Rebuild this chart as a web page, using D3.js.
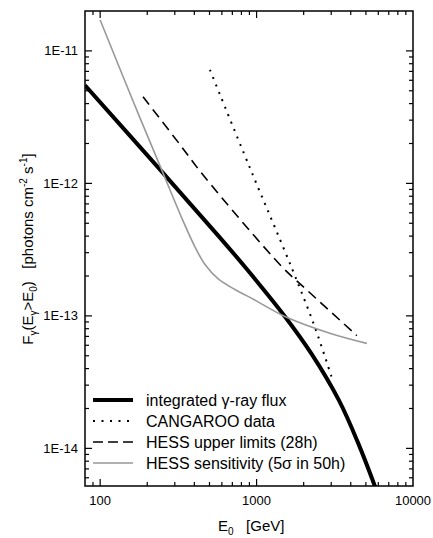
<!DOCTYPE html>
<html>
<head>
<meta charset="utf-8">
<script src="https://cdn.jsdelivr.net/npm/d3@7"></script>
<style>
  body { margin: 0; background: #fff; }
  svg { display: block; font-family: "Liberation Sans", Arial, Helvetica, sans-serif; }
</style>
</head>
<body>
<svg width="433" height="538"></svg>
<script>
// energies in GeV, fluxes in photons cm^-2 s^-1
var fluxE = [80, 252, 583, 881, 1517, 2257, 3357, 4441, 5700, 6140];
var fluxF = [5.5e-12, 1.2e-12, 3.9e-13, 2.2e-13, 9.9e-14, 5.12e-14, 2.31e-14, 1.11e-14, 5.2e-15, 4.06e-15];

var cangE = [503, 906, 1683, 2360, 3030];
var cangF = [7.2e-12, 1.31e-12, 2.28e-13, 8.2e-14, 3.4e-14];

var ulE = [188, 324, 454, 1452, 1977, 4375];
var ulF = [4.5e-12, 1.96e-12, 1.16e-12, 2.35e-13, 1.67e-13, 7.1e-14];

var sensE = [100, 162, 252, 338, 403, 468, 566, 727, 906, 1517, 2940, 5070];
var sensF = [1.71e-11, 4.2e-12, 1.2e-12, 5.24e-13, 3.33e-13, 2.44e-13, 1.91e-13, 1.58e-13, 1.38e-13, 9.9e-14, 7.4e-14, 6.2e-14];

var xTicks = [100, 1000, 10000];
var xTickLabels = ["100", "1000", "10000"];
var yTicks = [1e-14, 1e-13, 1e-12, 1e-11];
var yTickLabels = ["1E-14", "1E-13", "1E-12", "1E-11"];

var legendLabels = ["integrated \u03b3-ray flux", "CANGAROO data", "HESS upper limits (28h)", "HESS sensitivity (5\u03c3 in 50h)"];

var svg = d3.select("svg");
var pLeft = 85, pRight = 413, pTop = 11, pBottom = 486;

var x = d3.scaleLog().domain([80, 10000]).range([pLeft, pRight]);
var y = d3.scaleLog().domain([5.2e-15, 2e-11]).range([pBottom, pTop]);

svg.append("clipPath").attr("id", "plot")
  .append("rect")
  .attr("x", pLeft).attr("y", pTop)
  .attr("width", pRight - pLeft).attr("height", pBottom - pTop);

function pairs(es, fs) {
  return es.map(function(e, i) { return [e, fs[i]]; });
}

var line = d3.line()
  .x(function(d) { return x(d[0]); })
  .y(function(d) { return y(d[1]); })
  .curve(d3.curveCatmullRom.alpha(0.5));

var series = [
  { data: pairs(fluxE, fluxF), color: "#000", width: 4, dash: null },
  { data: pairs(cangE, cangF), color: "#000", width: 2, dash: "2,6" },
  { data: pairs(ulE, ulF), color: "#000", width: 1.6, dash: "10,6" },
  { data: pairs(sensE, sensF), color: "#999", width: 1.6, dash: null }
];

var g = svg.append("g").attr("clip-path", "url(#plot)");
series.forEach(function(s) {
  g.append("path")
    .attr("d", line(s.data))
    .attr("fill", "none")
    .attr("stroke", s.color)
    .attr("stroke-width", s.width)
    .attr("stroke-dasharray", s.dash);
});

// minor ticks
function minors(lo, hi) {
  var out = [];
  for (var p = Math.floor(Math.log10(lo)); p <= Math.ceil(Math.log10(hi)); p++) {
    for (var m = 2; m <= 9; m++) {
      var v = m * Math.pow(10, p);
      if (v > lo && v < hi) out.push(v);
    }
  }
  return out;
}

var tickG = svg.append("g").attr("stroke", "#000").attr("stroke-width", 1.2);

function xTick(v, len) {
  tickG.append("line").attr("x1", x(v)).attr("x2", x(v)).attr("y1", pBottom).attr("y2", pBottom - len);
  tickG.append("line").attr("x1", x(v)).attr("x2", x(v)).attr("y1", pTop).attr("y2", pTop + len);
}
function yTick(v, len) {
  tickG.append("line").attr("y1", y(v)).attr("y2", y(v)).attr("x1", pLeft).attr("x2", pLeft + len);
  tickG.append("line").attr("y1", y(v)).attr("y2", y(v)).attr("x1", pRight).attr("x2", pRight - len);
}

minors(80, 10000).forEach(function(v) { xTick(v, 4); });
xTicks.forEach(function(v) { if (v < 10000) xTick(v, 7); });
minors(5.2e-15, 2e-11).forEach(function(v) { yTick(v, 4); });
yTicks.forEach(function(v) { yTick(v, 7); });

svg.append("rect")
  .attr("x", pLeft).attr("y", pTop)
  .attr("width", pRight - pLeft).attr("height", pBottom - pTop)
  .attr("fill", "none").attr("stroke", "#000").attr("stroke-width", 1.5);

// tick labels
svg.append("g").selectAll("text").data(xTicks).join("text")
  .attr("x", function(d) { return x(d); })
  .attr("y", 505)
  .attr("text-anchor", "middle")
  .attr("font-size", 13)
  .text(function(d, i) { return xTickLabels[i]; });

svg.append("g").selectAll("text").data(yTicks).join("text")
  .attr("x", 78)
  .attr("y", function(d) { return y(d) + 4.5; })
  .attr("text-anchor", "end")
  .attr("font-size", 13)
  .text(function(d, i) { return yTickLabels[i]; });

// axis titles
var xt = svg.append("text").attr("x", 218).attr("y", 531).attr("font-size", 15);
xt.append("tspan").text("E");
xt.append("tspan").attr("dy", 4).attr("font-size", 10).text("0");
xt.append("tspan").attr("dy", -4).text("\u00a0\u00a0 [GeV]");

var yt = svg.append("text")
  .attr("transform", "translate(33,249) rotate(-90)")
  .attr("text-anchor", "middle")
  .attr("font-size", 15);
yt.append("tspan").text("F");
yt.append("tspan").attr("dy", 4).attr("font-size", 10).text("\u03b3");
yt.append("tspan").attr("dy", -4).text("(E");
yt.append("tspan").attr("dy", 4).attr("font-size", 10).text("\u03b3");
yt.append("tspan").attr("dy", -4).text(">E");
yt.append("tspan").attr("dy", 4).attr("font-size", 10).text("0");
yt.append("tspan").attr("dy", -4).text(")\u00a0\u00a0 [photons cm");
yt.append("tspan").attr("dy", -6).attr("font-size", 10).text("-2");
yt.append("tspan").attr("dy", 6).text(" s");
yt.append("tspan").attr("dy", -6).attr("font-size", 10).text("-1");
yt.append("tspan").attr("dy", 6).text("]");

// legend
var legend = svg.append("g");
legendLabels.forEach(function(lab, i) {
  var s = series[i];
  var ly = 400 + i * 21;
  legend.append("line")
    .attr("x1", 93).attr("x2", 133).attr("y1", ly).attr("y2", ly)
    .attr("stroke", s.color)
    .attr("stroke-width", s.width)
    .attr("stroke-dasharray", i === 1 ? "2,6.5" : (i === 2 ? "10,5" : null));
  legend.append("text")
    .attr("x", 146).attr("y", ly + 6)
    .attr("font-size", 16)
    .text(lab);
});
</script>
</body>
</html>
